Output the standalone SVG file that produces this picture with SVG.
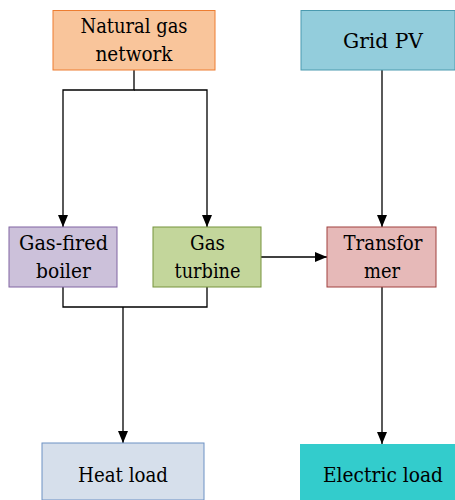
<svg xmlns="http://www.w3.org/2000/svg" width="455" height="500" viewBox="0 0 455 500">
<style>
text{font-family:"DejaVu Serif",serif;font-size:21px;fill:#000;text-anchor:middle}
.ln{fill:none;stroke:#000;stroke-width:1.3}
.bx{stroke-width:1}
</style>
<defs>
<marker id="ah" markerWidth="12" markerHeight="12" refX="12" refY="5.5" orient="auto" markerUnits="userSpaceOnUse" viewBox="0 0 12 11">
<path d="M0,0.5 L12,5.5 L0,10.5 Z" fill="#000"/>
</marker>
</defs>
<g id="connectors">
<path class="ln" d="M134,70 V90 H63 V227" marker-end="url(#ah)"/>
<path class="ln" d="M134,90 H207 V227" marker-end="url(#ah)"/>
<path class="ln" d="M382,70 V227" marker-end="url(#ah)"/>
<path class="ln" d="M261,257 H327" marker-end="url(#ah)"/>
<path class="ln" d="M63,287 V307 H207 V287"/>
<path class="ln" d="M123,307 V443" marker-end="url(#ah)"/>
<path class="ln" d="M382,287 V444" marker-end="url(#ah)"/>
</g>
<g id="natural-gas-network">
<rect class="bx" x="53" y="10.5" width="162" height="59.5" fill="#F9C59B" stroke="#ED7D31"/>
<text x="134" y="33" textLength="107" lengthAdjust="spacingAndGlyphs">Natural gas</text>
<text x="134" y="61" textLength="77" lengthAdjust="spacingAndGlyphs">network</text>
</g>
<g id="grid-pv">
<rect class="bx" x="301" y="10.5" width="154" height="59.5" fill="#93CDDC" stroke="#4A9AAF"/>
<text x="383" y="48" textLength="80" lengthAdjust="spacingAndGlyphs">Grid PV</text>
</g>
<g id="gas-fired-boiler">
<rect class="bx" x="9" y="227" width="108" height="60" fill="#CCC1DA" stroke="#8064A2"/>
<text x="63.5" y="250" textLength="89" lengthAdjust="spacingAndGlyphs">Gas-fired</text>
<text x="63.5" y="278" textLength="55" lengthAdjust="spacingAndGlyphs">boiler</text>
</g>
<g id="gas-turbine">
<rect class="bx" x="153" y="227" width="108" height="60" fill="#C3D69B" stroke="#77933C"/>
<text x="207.5" y="250" textLength="35" lengthAdjust="spacingAndGlyphs">Gas</text>
<text x="207.5" y="278" textLength="66" lengthAdjust="spacingAndGlyphs">turbine</text>
</g>
<g id="transformer">
<rect class="bx" x="327" y="227" width="109" height="60" fill="#E6B9B8" stroke="#A0403E"/>
<text x="383" y="250" textLength="79" lengthAdjust="spacingAndGlyphs">Transfor</text>
<text x="382" y="278" textLength="36" lengthAdjust="spacingAndGlyphs">mer</text>
</g>
<g id="heat-load">
<rect class="bx" x="42" y="443" width="162" height="57" fill="#D6DFEB" stroke="#6D91C4"/>
<text x="123" y="482" textLength="90" lengthAdjust="spacingAndGlyphs">Heat load</text>
</g>
<g id="electric-load">
<rect x="300" y="444" width="155" height="56" fill="#33CCCC"/>
<text x="383" y="482" textLength="120" lengthAdjust="spacingAndGlyphs">Electric load</text>
</g>
</svg>
